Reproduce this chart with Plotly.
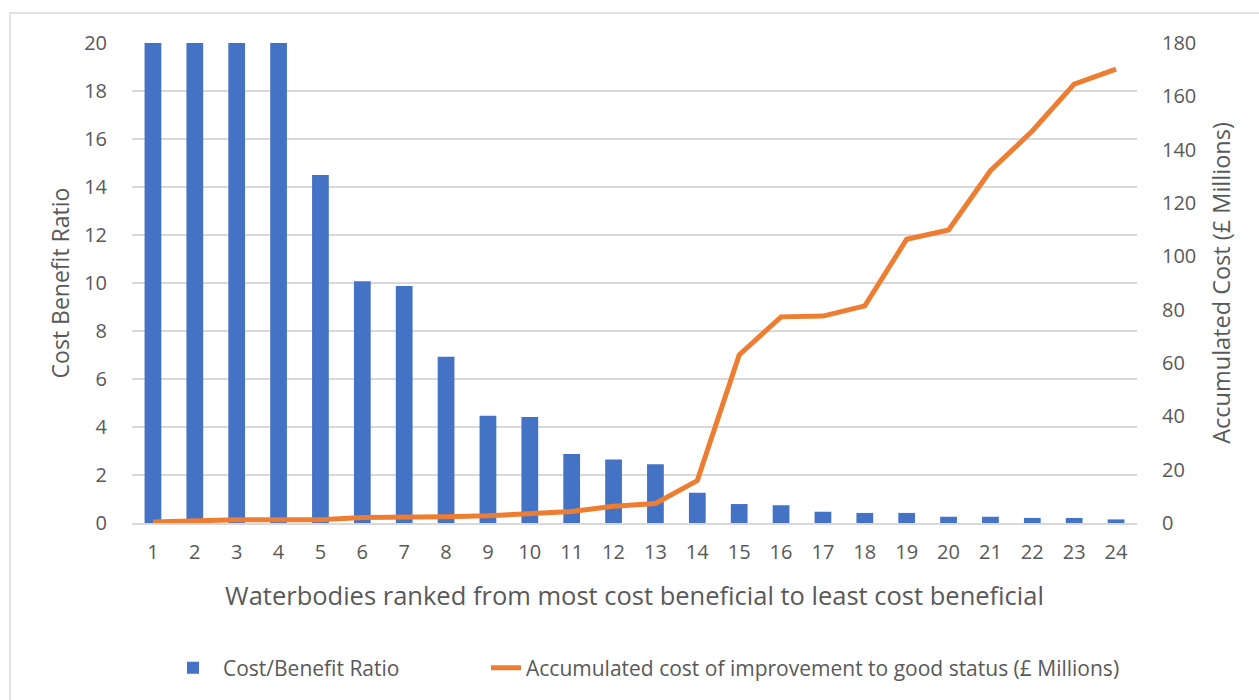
import plotly.graph_objects as go

categories = [str(i) for i in range(1, 25)]
cost_benefit_ratio = [20, 20, 20, 20, 14.5, 10.07, 9.87, 6.93, 4.47, 4.42, 2.87, 2.65,
                      2.45, 1.26, 0.79, 0.74, 0.47, 0.42, 0.42, 0.26, 0.26, 0.21, 0.21, 0.15]
accumulated_cost = [0.4, 0.9, 1.2, 1.2, 1.2, 2.1, 2.1, 2.3, 2.7, 3.6, 4.3, 6.3,
                    7.3, 15.9, 63.0, 77.3, 77.6, 81.4, 106.4, 109.9, 132.1, 147.0, 164.6, 170.2]
left_ticks = list(range(0, 21, 2))
right_ticks = list(range(0, 181, 20))

W, H = 1259, 700
L, R, T, B = 132, 1137, 43, 523

fig = go.Figure()
fig.add_trace(go.Bar(
    x=categories, y=cost_benefit_ratio, name="Cost/Benefit Ratio",
    marker=dict(color="#4472C4", line=dict(width=0)), width=0.4, yaxis="y",
    legend="legend",
))
fig.add_trace(go.Scatter(
    x=categories, y=accumulated_cost, mode="lines",
    name="Accumulated cost of improvement to good status (£ Millions)",
    line=dict(color="#ED7D31", width=5), yaxis="y2",
    legend="legend2",
))

grey = "#595959"
tickfont = dict(family="Open Sans", size=20, color=grey)
legfont = dict(family="Open Sans", size=21, color=grey)
leg_y = (B - 668) / (B - T)
fig.update_layout(
    width=W, height=H,
    margin=dict(l=L, r=W - R, t=T, b=H - B),
    paper_bgcolor="white", plot_bgcolor="white",
    showlegend=True,
    legend=dict(orientation="h", x=(163 - L) / (R - L), xanchor="left",
                y=leg_y, yanchor="middle", font=legfont, itemwidth=50,
                borderwidth=0, bgcolor="rgba(0,0,0,0)"),
    legend2=dict(orientation="h", x=(486 - L) / (R - L), xanchor="left",
                 y=leg_y, yanchor="middle", font=legfont, itemwidth=30,
                 borderwidth=0, bgcolor="rgba(0,0,0,0)"),
    xaxis=dict(
        type="category", range=[-0.5, 23.5],
        tickfont=tickfont, showgrid=False, showline=True,
        linecolor="#D9D9D9", linewidth=1.5,
        ticks="outside", ticklen=10, tickcolor="rgba(0,0,0,0)",
        title=dict(text="Waterbodies ranked from most cost beneficial to least cost beneficial",
                   font=dict(family="Open Sans", size=25.5, color=grey), standoff=23),
    ),
    yaxis=dict(
        range=[0, 20], tickvals=left_ticks, tickfont=tickfont,
        showgrid=True, gridcolor="#D9D9D9", gridwidth=1.5, zeroline=False,
        ticks="outside", ticklen=20, tickcolor="rgba(0,0,0,0)",
        title=dict(text="Cost Benefit Ratio", font=dict(family="Open Sans", size=23, color=grey),
                   standoff=8),
    ),
    yaxis2=dict(
        range=[0, 180], tickvals=right_ticks, tickfont=tickfont,
        overlaying="y", side="right", showgrid=False, zeroline=False,
        ticks="outside", ticklen=20, tickcolor="rgba(0,0,0,0)",
        title=dict(text="Accumulated Cost (£ Millions)", font=dict(family="Open Sans", size=23.5, color=grey),
                   standoff=18),
    ),
    shapes=[dict(type="rect", xref="paper", yref="paper",
                 x0=(10 - L) / (R - L), x1=(W + 20 - L) / (R - L),
                 y0=(B - H - 20) / (B - T), y1=(B - 13) / (B - T),
                 line=dict(color="#D9D9D9", width=1.5), layer="below")],
)

fig.write_html("out.html")
